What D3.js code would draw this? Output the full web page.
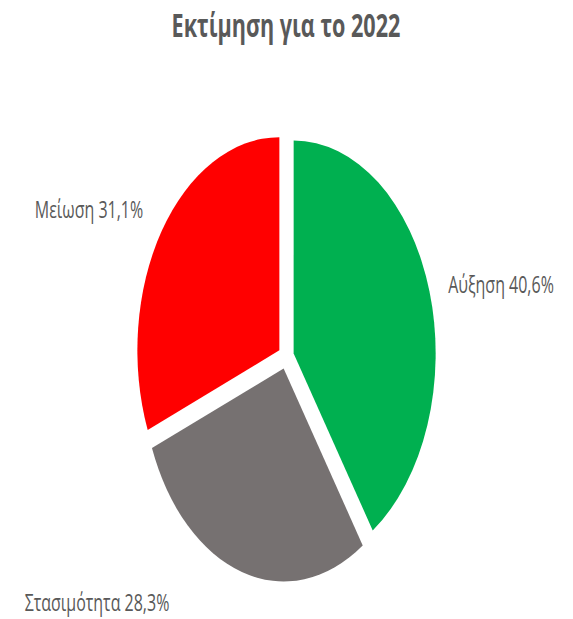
<!DOCTYPE html>
<html>
<head>
<meta charset="utf-8">
<script src="https://cdn.jsdelivr.net/npm/d3@7"></script>
<style>
  body { margin: 0; background: #fff; }
  text { font-family: "Open Sans", "DejaVu Sans", sans-serif; fill: #595959; }
</style>
</head>
<body>
<div id="chart"></div>
<script>
var title = 'Εκτίμηση για το 2022'
var categories = ['Αύξηση', 'Στασιμότητα', 'Μείωση']
var values = [40.6, 28.3, 31.1]
var colors = ['#00b050', '#767171', '#ff0000']

var width = 573
var height = 619
var stretch = 1.5      // the picture is stretched vertically
var cx = 286, cy = 238 // unstretched coords
var r = 142
var explode = 8

// label anchors relative to the pie center (unstretched)
var labelOffsets = [[215, -43], [-189, 169.5], [-197, -93]]

var svg = d3.select('#chart').append('svg')
  .attr('width', width)
  .attr('height', height)

var g = svg.append('g').attr('transform', 'scale(1,' + stretch + ')')

g.append('text')
  .attr('x', cx)
  .attr('y', 24.7)
  .attr('text-anchor', 'middle')
  .style('font-size', '21.6px')
  .style('font-weight', 700)
  .text(title)

var data = categories.map((c, i) => ({name: c, value: values[i], color: colors[i], i}))

var pie = d3.pie().sort(null).value(d => d.value)
var arc = d3.arc().innerRadius(0).outerRadius(r)

var pieG = g.append('g').attr('transform', 'translate(' + cx + ',' + cy + ')')

pieG.selectAll('path').data(pie(data)).join('path')
  .attr('d', arc)
  .attr('fill', d => d.data.color)
  .attr('transform', d => {
    var a = (d.startAngle + d.endAngle) / 2
    return 'translate(' + Math.sin(a) * explode + ',' + (-Math.cos(a) * explode) + ')'
  })

pieG.selectAll('text.label').data(pie(data)).join('text')
  .attr('class', 'label')
  .attr('x', d => labelOffsets[d.index][0])
  .attr('y', d => labelOffsets[d.index][1])
  .attr('text-anchor', 'middle')
  .style('font-size', '16px')
  .text(d => d.data.name + ' ' + d3.format('.1f')(d.data.value).replace('.', ',') + '%')
</script>
</body>
</html>
